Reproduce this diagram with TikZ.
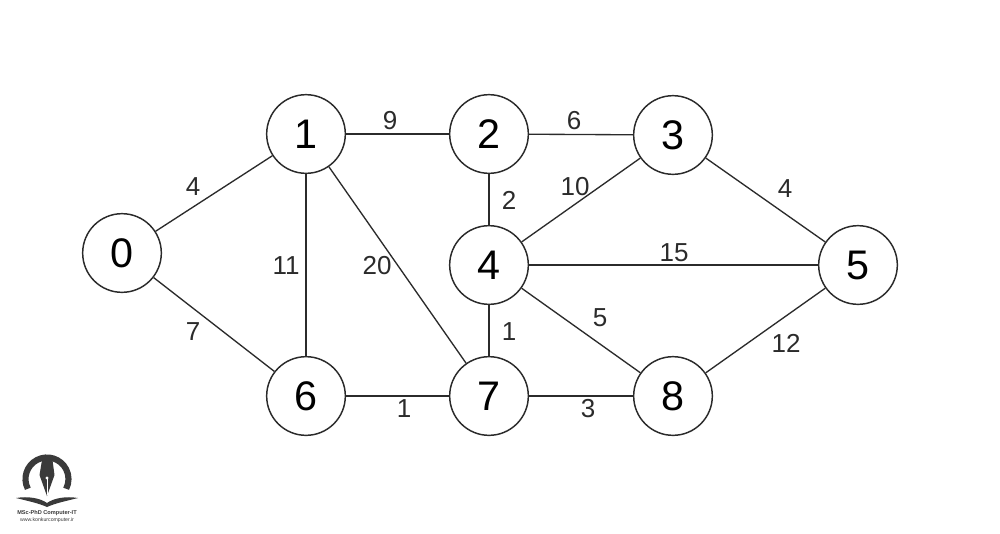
\documentclass[tikz,border=0pt]{standalone}
\usepackage{fontspec}
\setmainfont{Liberation Sans}
\definecolor{ink}{HTML}{2B2B2B}
\definecolor{logo}{HTML}{3A3A3A}
\tikzset{
  vertex/.style={circle,draw=ink,line width=1.1pt,fill=white,minimum size=59pt,inner sep=0pt,font=\fontsize{31}{31}\selectfont,text=black},
  edge/.style={draw=ink,line width=1pt},
  weight/.style={inner sep=0pt,font=\fontsize{19.5}{20}\selectfont,text=ink},
  tiny1/.style={inner sep=0pt,font=\bfseries\fontsize{4.2}{5}\selectfont,text=logo},
  tiny2/.style={inner sep=0pt,font=\fontsize{3.9}{5}\selectfont,text=logo}
}
\begin{document}
\begin{tikzpicture}[x=0.75pt,y=-0.75pt]
\useasboundingbox (0,0) rectangle (1000,533);
\fill[white] (0,0) rectangle (1000,533);
\node[vertex] (n0) at (122,253) {0};
\node[vertex] (n1) at (306,134) {1};
\node[vertex] (n2) at (489,134) {2};
\node[vertex] (n3) at (673,135) {3};
\node[vertex] (n4) at (489,265) {4};
\node[vertex] (n5) at (858,265) {5};
\node[vertex] (n6) at (306,396) {6};
\node[vertex] (n7) at (489,396) {7};
\node[vertex] (n8) at (673,396) {8};
\draw[edge] (n0) -- (n1);
\draw[edge] (n0) -- (n6);
\draw[edge] (n1) -- (n2);
\draw[edge] (n1) -- (n6);
\draw[edge] (n1) -- (n7);
\draw[edge] (n2) -- (n3);
\draw[edge] (n2) -- (n4);
\draw[edge] (n3) -- (n4);
\draw[edge] (n3) -- (n5);
\draw[edge] (n4) -- (n5);
\draw[edge] (n4) -- (n7);
\draw[edge] (n4) -- (n8);
\draw[edge] (n5) -- (n8);
\draw[edge] (n6) -- (n7);
\draw[edge] (n7) -- (n8);
\node[weight] (w01) at (193,187) {4};
\node[weight] (w06) at (193,332) {7};
\node[weight] (w12) at (390,121) {9};
\node[weight] (w16) at (286,266) {11};
\node[weight] (w17) at (377,266) {20};
\node[weight] (w23) at (574,121) {6};
\node[weight] (w24) at (509,200) {2};
\node[weight] (w34) at (575,187) {10};
\node[weight] (w35) at (785,189) {4};
\node[weight] (w45) at (674,253) {15};
\node[weight] (w47) at (509,332) {1};
\node[weight] (w48) at (600,318) {5};
\node[weight] (w58) at (786,343) {12};
\node[weight] (w67) at (404,409) {1};
\node[weight] (w78) at (588,409) {3};
% logo
\draw[logo,line width=4.6pt] (47,479) ++(153:21.5) arc[start angle=153,end angle=387,radius=21.5];
\fill[logo] (42,460) -- (52.5,460) -- (54.5,475) -- (47,496) -- (39.5,475) -- cycle;
\fill[white] (47,478) circle (1.6);
\draw[white,line width=0.4pt] (47,478) -- (47,495);
\fill[logo] (16,498) .. controls (28,496) and (40,498) .. (47,503) .. controls (54,498) and (66,496) .. (78,498)
  .. controls (66,501) and (56,503) .. (47,507) .. controls (38,503) and (28,501) .. (16,498) -- cycle;
\node[tiny1] (t1) at (47,513) {MSc-PhD Computer-IT};
\node[tiny2] (t2) at (47,520) {www.konkurcomputer.ir};
\end{tikzpicture}
\end{document}
